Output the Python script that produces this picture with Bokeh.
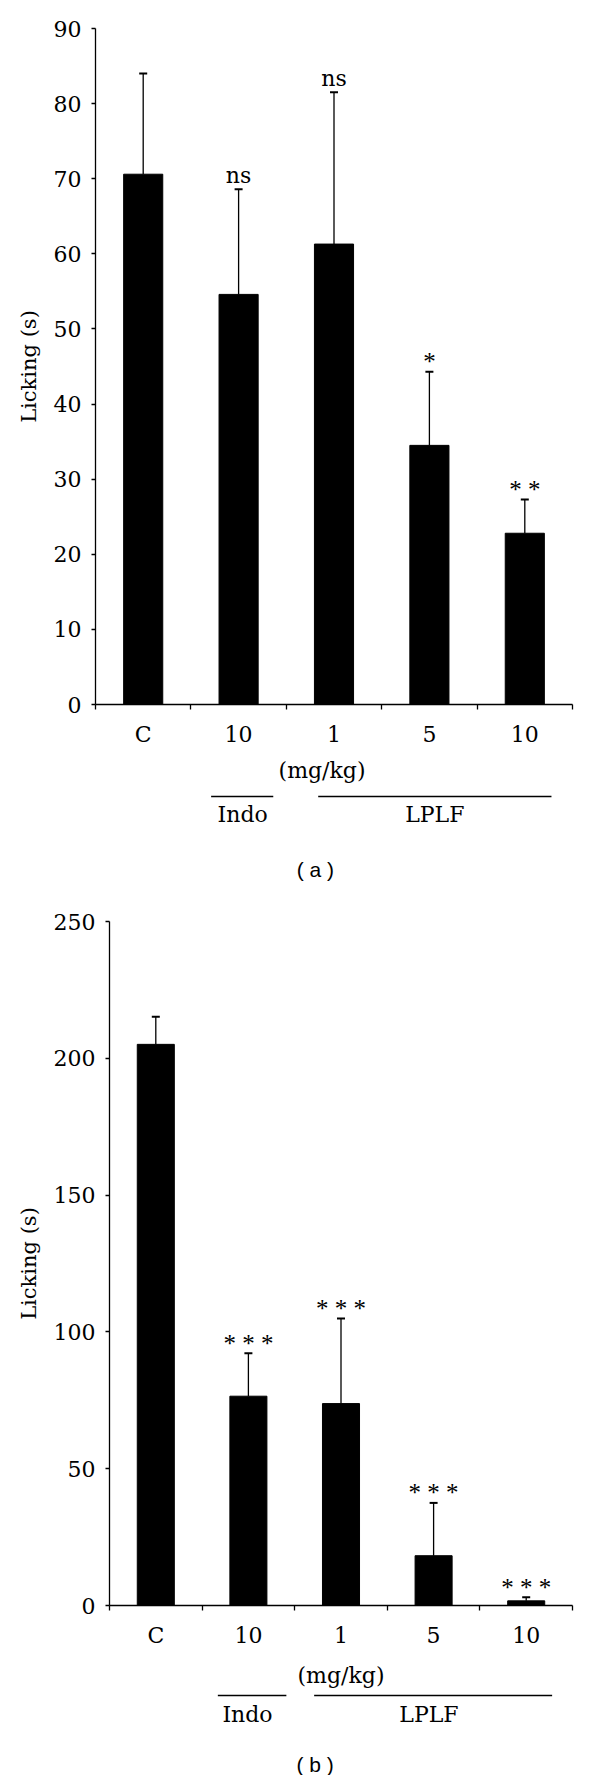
import math
from bokeh.plotting import figure
from bokeh.models import Range1d, FixedTicker, Whisker, TeeHead, ColumnDataSource
from bokeh.layouts import column, row
from bokeh.embed import file_html
from bokeh.resources import INLINE
from bokeh.core.properties import value

# ---------------- data ----------------
categories = ["C", "10", "1", "5", "10"]
group_names = ["Indo", "LPLF"]
unit_label = "(mg/kg)"
y_title = "Licking (s)"

a_means = [70.6, 54.6, 61.3, 34.5, 22.8]
a_upper = [84.0, 68.6, 81.5, 44.3, 27.3]
a_sig = ["", "ns", "ns", "*", "* *"]
a_ticks = [0, 10, 20, 30, 40, 50, 60, 70, 80, 90]

b_means = [205.1, 76.5, 73.8, 18.2, 1.7]
b_upper = [215.2, 92.2, 104.9, 37.5, 3.0]
b_sig = ["", "* * *", "* * *", "* * *", "* * *"]
b_ticks = [0, 50, 100, 150, 200, 250]

SERIF = "DejaVu Serif"
STAR_FONT = "Liberation Serif"
SANS = "Liberation Sans"
BELOW = 50   # pixels of the main figure below the plot frame
SIDE = 50    # width of the strip holding the y-axis title


def bare(p):
    p.outline_line_color = None
    p.xgrid.visible = False
    p.ygrid.visible = False
    return p


def make_panel(means, upper, sig, ticks, caption, H, L, R, T, FH, bar_w,
               ylab_x, grp_spans, grp_text_x, unit_x, cap_x,
               off_unit, off_line, off_grp, off_cap):
    n = len(categories)
    xs = [i + 0.5 for i in range(n)]
    xr = Range1d(0, n)
    yr = Range1d(ticks[0], ticks[-1])
    MH = T + FH + BELOW

    p = bare(figure(width=584 - SIDE, height=MH, x_range=xr, y_range=yr,
                    output_backend="svg", toolbar_location=None,
                    min_border_left=L - SIDE, min_border_right=R,
                    min_border_top=T, min_border_bottom=BELOW))

    src = ColumnDataSource(dict(
        x=xs, mean=means, upper=upper, sig=sig,
        yoff=[-14 if s == "ns" else -10 for s in sig],
        font=[SERIF if s == "ns" else STAR_FONT for s in sig],
        size=["22px" if s == "ns" else "25px" for s in sig]))

    p.vbar(x="x", top="mean", bottom=0, width=bar_w, source=src,
           fill_color="black", line_color="black", line_width=1)
    p.add_layout(Whisker(base="x", upper="upper", lower="mean", source=src,
                         dimension="height", line_color="black", line_width=1.3,
                         upper_head=TeeHead(size=8, line_color="black", line_width=2),
                         lower_head=None))
    p.text(x="x", y="upper", text="sig", source=src, y_offset="yoff",
           text_align="center", text_baseline="alphabetic",
           text_font="font", text_font_size="size", text_color="black")

    # x axis: boundary ticks as minor ticks, labels at centres
    xa = p.xaxis[0]
    xa.ticker = FixedTicker(ticks=xs, minor_ticks=list(range(n + 1)))
    xa.major_label_overrides = {x: c for x, c in zip(xs, categories)}
    xa.major_tick_out = 0
    xa.major_tick_in = 0
    xa.minor_tick_out = 5
    xa.minor_tick_in = 0
    xa.minor_tick_line_color = "black"
    xa.minor_tick_line_width = 1.3
    xa.axis_line_color = "black"
    xa.axis_line_width = 1.3
    xa.major_label_standoff = 12
    xa.major_label_text_font = SERIF
    xa.major_label_text_font_size = "22px"
    xa.major_label_text_color = "black"

    ya = p.yaxis[0]
    ya.ticker = FixedTicker(ticks=ticks, minor_ticks=[])
    ya.major_tick_out = 4
    ya.major_tick_in = 0
    ya.major_tick_line_color = "black"
    ya.major_tick_line_width = 1.3
    ya.axis_line_color = "black"
    ya.axis_line_width = 1.3
    ya.major_label_standoff = 10
    ya.major_label_text_font = SERIF
    ya.major_label_text_font_size = "22px"
    ya.major_label_text_color = "black"

    # side strip with the rotated y-axis title
    s = bare(figure(width=SIDE, height=MH, x_range=Range1d(0, SIDE), y_range=yr,
                    x_axis_type=None, y_axis_type=None,
                    output_backend="svg", toolbar_location=None,
                    min_border_left=0, min_border_right=0,
                    min_border_top=T, min_border_bottom=BELOW))
    s.text(x=[ylab_x], y=[(ticks[0] + ticks[-1]) / 2], text=[y_title],
           angle=math.pi / 2, text_align="center", text_baseline="middle",
           text_font=value(SERIF), text_font_size="21px", text_color="black")

    # footer figure: group annotations, unit label and caption
    FOOT = H - MH
    f = bare(figure(width=584, height=FOOT, x_range=xr,
                    y_range=Range1d(FOOT + BELOW, BELOW),
                    x_axis_type=None, y_axis_type=None,
                    output_backend="svg", toolbar_location=None,
                    min_border_left=L, min_border_right=R, min_border_top=0,
                    min_border_bottom=0))

    f.text(x=[unit_x], y=[off_unit], text=[unit_label], text_align="center",
           text_baseline="middle", text_font=value(SERIF),
           text_font_size="22px", text_color="black")
    f.segment(x0=[g[0] for g in grp_spans], x1=[g[1] for g in grp_spans],
              y0=[off_line] * len(grp_spans), y1=[off_line] * len(grp_spans),
              line_color="black", line_width=1.6)
    f.text(x=grp_text_x, y=[off_grp] * len(grp_text_x), text=group_names,
           text_align="center", text_baseline="middle",
           text_font=value(SERIF), text_font_size="22px", text_color="black")
    f.text(x=[cap_x], y=[off_cap], text=[caption], text_align="center",
           text_baseline="middle", text_font=value(SANS),
           text_font_size="21px", text_color="black")
    return column(row(s, p, spacing=0), f, spacing=0)


pa = make_panel(a_means, a_upper, a_sig, a_ticks, "( a )",
                H=900, L=94, R=12, T=28, FH=676, bar_w=0.41, ylab_x=28.7,
                grp_spans=[(1.22, 1.87), (2.34, 4.78)],
                grp_text_x=[1.55, 3.56], unit_x=2.38, cap_x=2.31,
                off_unit=66, off_line=92, off_grp=110, off_cap=165)

pb = make_panel(b_means, b_upper, b_sig, b_ticks, "( b )",
                H=875, L=109, R=12, T=21, FH=684, bar_w=0.40, ylab_x=28.4,
                grp_spans=[(1.17, 1.91), (2.21, 4.78)],
                grp_text_x=[1.49, 3.45], unit_x=2.50, cap_x=2.22,
                off_unit=70, off_line=90, off_grp=109, off_cap=159)

layout = column(pa, pb, spacing=0)
open("out.html", "w").write(file_html(layout, INLINE))
